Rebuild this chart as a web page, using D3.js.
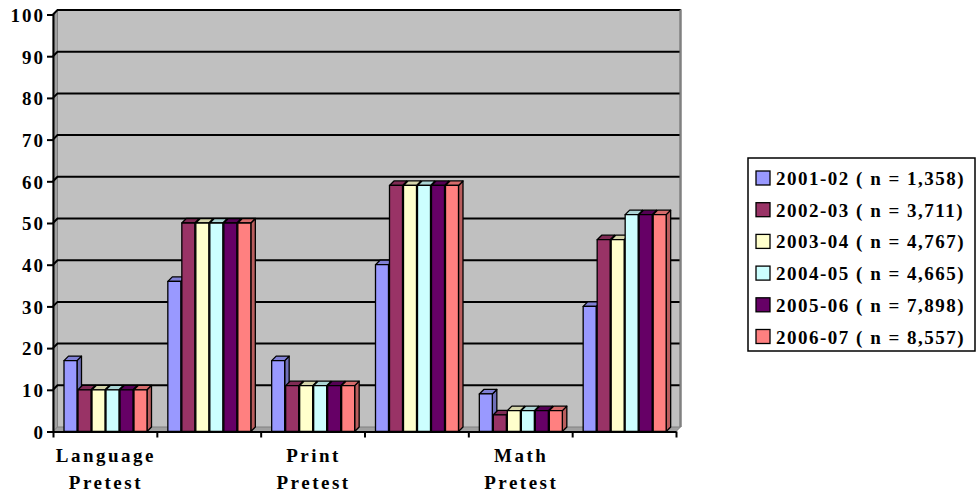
<!DOCTYPE html>
<html><head><meta charset="utf-8">
<script src="https://cdn.jsdelivr.net/npm/d3@7"></script>
<style>
html,body{margin:0;padding:0;background:#fff;}
svg{display:block;}
text{font-family:"Liberation Serif","Times New Roman",serif;font-weight:bold;fill:#000;}
</style></head><body>
<svg id="c" width="979" height="494"></svg>
<script>
const categories = ["Language|Pretest", "", "Print|Pretest", "", "Math|Pretest", ""];
const seriesNames = ["2001-02 ( n = 1,358)", "2002-03 ( n = 3,711)", "2003-04 ( n = 4,767)",
                     "2004-05 ( n = 4,665)", "2005-06 ( n = 7,898)", "2006-07 ( n = 8,557)"];
const s2001 = [17, 36, 17, 40, 9, 30];
const s2002 = [10, 50, 11, 59, 4, 46];
const s2003 = [10, 50, 11, 59, 5, 46];
const s2004 = [10, 50, 11, 59, 5, 52];
const s2005 = [10, 50, 11, 59, 5, 52];
const s2006 = [10, 50, 11, 59, 5, 52];
const yTicks = [0, 10, 20, 30, 40, 50, 60, 70, 80, 90, 100];
const colors = ["#9999FF", "#993366", "#FFFFCC", "#CCFFFF", "#660066", "#FF8080"];

const seriesValues = [s2001, s2002, s2003, s2004, s2005, s2006];
const svg = d3.select("#c");
const D = 4.5; // 3D depth offset
const x0 = 53, x1 = 676;
const x = d3.scaleBand().domain(d3.range(categories.length)).range([x0, x1]);
const xs = d3.scaleBand().domain(d3.range(seriesNames.length)).range([11, 95]);
const y = d3.scaleLinear().domain([0, 100]).range([431.5, 14.5]);

// back wall
svg.append("path")
  .attr("d", `M${x0+D},${y(100)-D}H${x1+D}V${y(0)-D}H${x0+D}Z`)
  .attr("fill", "#C0C0C0").attr("stroke", "none");
svg.append("path")
  .attr("d", `M${x0+D},${y(100)-D}H${x1+D}V${y(0)-D}`)
  .attr("fill", "none").attr("stroke", "#808080").attr("stroke-width", 2);
// left wall
svg.append("path")
  .attr("d", `M${x0},${y(100)}L${x0+D},${y(100)-D}V${y(0)-D}L${x0},${y(0)}Z`)
  .attr("fill", "#A0A0A0").attr("stroke", "#808080").attr("stroke-width", 1);
// floor
svg.append("path")
  .attr("d", `M${x0},${y(0)}L${x0+D},${y(0)-D}H${x1+D}L${x1},${y(0)}Z`)
  .attr("fill", "#A0A0A0").attr("stroke", "#808080").attr("stroke-width", 1);

// gridlines
svg.append("g").selectAll("path").data(yTicks.filter(t => t > 0)).join("path")
  .attr("d", t => `M${x0},${y(t)}L${x0+D},${y(t)-D}H${x1+D}`)
  .attr("fill", "none").attr("stroke", "#000").attr("stroke-width", 2);
svg.append("path")
  .attr("d", `M${x1+D},${y(100)-D}V${y(0)-D}`)
  .attr("stroke", "#808080").attr("stroke-width", 2);

// bars
const bars = [];
categories.forEach((c, ci) => {
  seriesNames.forEach((s, si) => {
    bars.push({ci, si, v: seriesValues[si][ci]});
  });
});
const bw = xs.bandwidth() - 1;
const g = svg.append("g");
bars.forEach(b => {
  const bx = x(b.ci) + xs(b.si);
  const top = y(b.v), bot = y(0);
  const col = d3.color(colors[b.si]);
  const gg = g.append("g").attr("stroke", "#000").attr("stroke-width", 1.3).attr("stroke-linejoin", "round");
  // side face
  gg.append("path").attr("d", `M${bx+bw},${bot}L${bx+bw+D},${bot-D}V${top-D}L${bx+bw},${top}Z`)
    .attr("fill", col.darker(0.9));
  // top face
  gg.append("path").attr("d", `M${bx},${top}L${bx+D},${top-D}H${bx+bw+D}L${bx+bw},${top}Z`)
    .attr("fill", col.darker(0.5));
  // front face
  gg.append("rect").attr("x", bx).attr("y", top).attr("width", bw).attr("height", bot - top)
    .attr("fill", colors[b.si]);
});

// y axis
const ya = svg.append("g").attr("transform", `translate(${x0},0)`)
  .call(d3.axisLeft(y).tickValues(yTicks).tickSize(6).tickPadding(4).tickFormat(d3.format("d")));
ya.select(".domain").attr("stroke", "#000").attr("stroke-width", 2);
ya.selectAll(".tick line").attr("stroke", "#000").attr("stroke-width", 2);
ya.selectAll(".tick text").style("font-size", "19px").attr("font-family", null)
  .style("letter-spacing", "2px").attr("dx", "2").attr("dy", "0.36em");

// x axis with ticks at category boundaries
const bounds = d3.range(categories.length + 1).map(i => x0 + i * x.bandwidth());
const xb = d3.scaleLinear().domain([x0, x1]).range([x0, x1]);
const xa = svg.append("g").attr("transform", `translate(0,${y(0)})`)
  .call(d3.axisBottom(xb).tickValues(bounds).tickSize(6).tickSizeOuter(0).tickFormat(""));
xa.select(".domain").attr("stroke", "#000").attr("stroke-width", 2);
xa.selectAll(".tick line").attr("stroke", "#000").attr("stroke-width", 2);

// category labels
const lab = svg.append("g").selectAll("text").data(categories.map((c, i) => ({c, i})).filter(d => d.c))
  .join("text")
  .attr("x", d => x(d.i) + x.bandwidth() / 2)
  .attr("text-anchor", "middle")
  .style("font-size", "19px").style("letter-spacing", "2.5px");
lab.selectAll("tspan").data(d => d.c.split("|").map((t, k) => ({t, k, xx: x(d.i) + x.bandwidth() / 2})))
  .join("tspan").attr("x", d => d.xx + 1).attr("y", d => 462 + d.k * 27).text(d => d.t);

// legend
const lg = svg.append("g");
lg.append("rect").attr("x", 748).attr("y", 158).attr("width", 227).attr("height", 193)
  .attr("fill", "#fff").attr("stroke", "#000").attr("stroke-width", 1.5);
const li = lg.selectAll("g.li").data(seriesNames).join("g").attr("class", "li")
  .attr("transform", (d, i) => `translate(756,${178 + i * 31.7})`);
li.append("rect").attr("x", 0).attr("y", -7).attr("width", 14).attr("height", 14)
  .attr("fill", (d, i) => colors[i]).attr("stroke", "#000").attr("stroke-width", 1.3);
li.append("text").attr("x", 20).attr("y", 7).style("font-size", "19px").style("letter-spacing", "1.5px")
  .text(d => d);
</script>
</body></html>
